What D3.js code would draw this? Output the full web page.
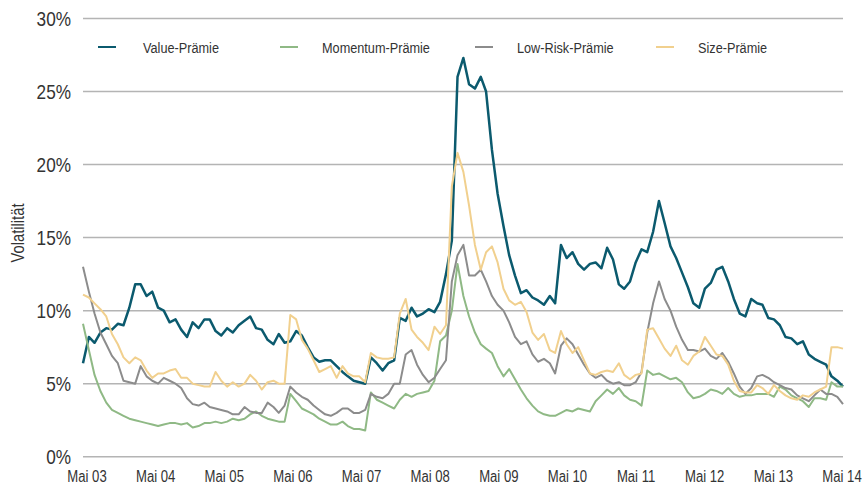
<!DOCTYPE html>
<html>
<head>
<meta charset="utf-8">
<script src="https://cdn.jsdelivr.net/npm/d3@7"></script>
<style>
  body { margin: 0; background: #fff; }
  svg text { font-family: "Liberation Sans", Arial, sans-serif; fill: #333; }
</style>
</head>
<body>
<div id="chart"></div>
<script>
// monthly readings, Mai 2003 .. Mai 2014 (133 points), in %
const valuePraemie = [
  6.4, 8.2, 7.8, 8.5, 8.8, 8.7, 9.1, 9.0, 10.2, 11.8, 11.8, 11.0,
  11.3, 10.2, 10.0, 9.2, 9.4, 8.7, 8.2, 9.2, 8.8, 9.4, 9.4, 8.6,
  8.3, 8.8, 8.5, 9.0, 9.3, 9.6, 8.8, 8.7, 8.0, 7.7, 8.4, 7.8,
  7.9, 8.6, 8.3, 7.5, 6.8, 6.5, 6.6, 6.6, 6.2, 5.8, 5.5, 5.2,
  5.1, 5.0, 6.8, 6.4, 5.9, 6.4, 6.6, 9.5, 9.3, 10.2, 9.6, 9.8,
  10.1, 9.9, 10.6, 12.5, 14.8, 26.0, 27.3, 25.5, 25.2, 26.0, 25.0, 21.0,
  18.0, 15.8, 13.8, 12.4, 11.2, 11.4, 10.9, 10.7, 10.4, 11.0, 10.5, 14.5,
  13.6, 14.0, 13.2, 12.8, 13.2, 13.3, 12.9, 14.3, 13.5, 11.8, 11.5, 12.0,
  13.3, 14.2, 14.0, 15.4, 17.5, 16.0, 14.4, 13.6, 12.6, 11.6, 10.5, 10.2,
  11.5, 11.9, 12.8, 13.0, 12.0, 10.8, 9.8, 9.6, 10.8, 10.5, 10.4, 9.5,
  9.4, 9.0, 8.2, 8.1, 7.7, 7.9, 7.0, 6.7, 6.5, 6.3, 5.5, 5.2, 4.8
]
const momentumPraemie = [
  9.1, 7.3, 5.6, 4.5, 3.7, 3.2, 3.0, 2.8, 2.6, 2.5, 2.4, 2.3,
  2.2, 2.1, 2.2, 2.3, 2.3, 2.2, 2.3, 2.0, 2.1, 2.3, 2.3, 2.4,
  2.3, 2.4, 2.6, 2.5, 2.6, 2.9, 3.1, 2.8, 2.6, 2.5, 2.4, 2.4,
  4.3, 3.8, 3.3, 3.1, 2.9, 2.6, 2.4, 2.2, 2.2, 2.4, 2.1, 1.9,
  1.9, 1.8, 4.4, 3.9, 3.7, 3.5, 3.3, 3.9, 4.3, 4.1, 4.3, 4.4,
  4.5, 5.2, 7.9, 8.3, 10.0, 13.2, 11.0, 9.6, 8.5, 7.7, 7.4, 7.1,
  6.2, 5.5, 6.0, 5.3, 4.6, 4.0, 3.5, 3.1, 2.9, 2.8, 2.8, 3.0,
  3.2, 3.1, 3.3, 3.2, 3.1, 3.8, 4.2, 4.6, 4.3, 4.7, 4.2, 3.9,
  3.8, 3.5, 5.9, 5.6, 5.7, 5.5, 5.3, 5.4, 5.1, 4.4, 4.0, 4.1,
  4.3, 4.6, 4.5, 4.3, 4.7, 4.3, 4.1, 4.2, 4.2, 4.3, 4.3, 4.3,
  4.1, 4.8, 4.6, 4.2, 4.0, 3.8, 3.4, 4.0, 4.0, 3.9, 5.1, 4.8, 4.8
]
const lowRiskPraemie = [
  13.0, 11.3, 9.8, 8.5, 7.7, 6.9, 6.4, 5.2, 5.1, 5.0, 6.2, 5.5,
  5.2, 5.0, 5.4, 5.2, 5.0, 4.7, 4.0, 3.6, 3.5, 3.7, 3.4, 3.3,
  3.2, 3.1, 2.9, 2.9, 3.4, 3.1, 3.0, 3.0, 3.7, 3.4, 3.0, 3.5,
  4.8, 4.4, 4.1, 3.9, 3.5, 3.2, 2.9, 2.8, 3.0, 3.3, 3.3, 3.0,
  3.0, 3.2, 4.3, 4.1, 4.0, 4.3, 5.0, 5.0, 7.0, 7.3, 6.3, 5.6,
  5.1, 5.4, 6.0, 6.6, 12.0, 13.8, 14.5, 12.4, 12.4, 12.8, 12.0, 11.0,
  10.4, 10.0, 9.2, 8.2, 7.7, 7.9, 7.0, 6.5, 6.7, 6.4, 5.7, 7.6,
  8.1, 7.7, 7.0, 6.3, 5.7, 5.4, 5.6, 5.2, 5.0, 5.1, 4.9, 4.9,
  5.1, 5.8, 8.5, 10.5, 12.0, 10.8, 10.0, 8.9, 8.0, 7.3, 7.3, 7.2,
  7.4, 6.9, 6.7, 7.1, 6.5, 5.7, 4.8, 4.3, 4.7, 5.5, 5.6, 5.4,
  5.1, 4.9, 4.7, 4.6, 4.2, 4.0, 3.8, 4.2, 4.6, 4.3, 4.3, 4.1, 3.6
]
const sizePraemie = [
  11.1, 10.9, 10.5, 10.1, 9.6, 8.4, 7.7, 6.8, 6.4, 6.8, 6.6, 5.9,
  5.4, 5.7, 5.7, 5.9, 6.0, 5.4, 5.4, 5.0, 4.9, 4.8, 4.8, 5.8,
  5.2, 4.8, 5.1, 4.8, 5.0, 5.6, 5.2, 4.6, 5.1, 5.2, 5.0, 5.0,
  9.7, 9.4, 8.0, 7.4, 6.6, 5.8, 6.0, 6.2, 5.4, 6.2, 5.7, 5.5,
  5.5, 5.1, 7.1, 6.8, 6.7, 6.7, 6.8, 9.8, 10.8, 8.7, 8.2, 7.8,
  7.3, 8.9, 8.4, 9.0, 18.5, 20.8, 19.5, 17.2, 14.5, 12.8, 14.0, 14.4,
  13.3, 11.5, 10.7, 10.4, 10.6, 9.9, 8.5, 8.0, 8.4, 7.3, 7.1, 8.6,
  7.7, 7.1, 7.5, 6.6, 5.7, 5.6, 5.8, 5.9, 5.8, 6.4, 5.6, 5.3,
  5.6, 5.7, 8.7, 8.8, 8.1, 7.4, 6.9, 7.6, 6.6, 6.3, 6.9, 7.2,
  8.2, 7.6, 7.0, 6.9, 6.3, 5.2, 4.5, 4.4, 4.4, 4.9, 4.7, 4.3,
  4.9, 4.5, 4.2, 4.0, 3.9, 4.2, 4.1, 4.4, 4.6, 4.8, 7.5, 7.5, 7.4
]

const seriesNames = ["Value-Prämie", "Momentum-Prämie", "Low-Risk-Prämie", "Size-Prämie"]
const seriesColors = ["#0b5a6e", "#8fb985", "#8c8c8c", "#f1d08e"]
const xLabels = ["Mai 03", "Mai 04", "Mai 05", "Mai 06", "Mai 07", "Mai 08", "Mai 09", "Mai 10", "Mai 11", "Mai 12", "Mai 13", "Mai 14"]
const yTicks = [0, 5, 10, 15, 20, 25, 30]

const dates = d3.timeMonth.range(new Date(2003, 4, 1), new Date(2014, 5, 1))
const allSeries = [valuePraemie, momentumPraemie, lowRiskPraemie, sizePraemie]

const W = 865, H = 487
const narrow = "scale(0.82,1)"   // mimic a condensed face

const svg = d3.select("#chart")
    .append("svg")
    .attr("width", W)
    .attr("height", H)

const x = d3.scaleTime()
    .domain([dates[0], dates[dates.length - 1]])
    .range([83, 843])

const y = d3.scaleLinear()
    .domain([0, 30])
    .range([456.7, 18.5])

// labels sit on an even grid of their own
const xl = d3.scalePoint()
    .domain(xLabels)
    .range([87, 842])

// grid
svg.append("g")
    .selectAll("line")
    .data(yTicks)
    .join("line")
        .attr("x1", 83)
        .attr("x2", 843)
        .attr("y1", d => y(d))
        .attr("y2", d => y(d))
        .attr("stroke", "#b4b4b4")
        .attr("stroke-width", 1.5)

const yAxis = svg.append("g")
    .attr("transform", "translate(71,0)")
    .call(d3.axisLeft(y).tickValues(yTicks).tickSize(0).tickFormat(d => d + "%"))
yAxis.select(".domain").remove()
yAxis.attr("font-family", null).attr("font-size", null)
yAxis.selectAll("text")
    .attr("x", 0)
    .attr("dy", "0.36em")
    .attr("transform", "scale(0.86,1)")
    .style("font-size", "20px")
    .style("fill", "#333")

svg.append("g")
    .selectAll("text")
    .data(xLabels)
    .join("text")
        .attr("transform", d => `translate(${xl(d)},482) ${narrow}`)
        .attr("text-anchor", "middle")
        .style("font-size", "16px")
        .text(d => d)

svg.append("text")
    .attr("transform", `translate(24,233) rotate(-90) ${narrow}`)
    .attr("text-anchor", "middle")
    .style("font-size", "18px")
    .text("Volatilität")

// lines
const line = d3.line()
    .x((d, i) => x(dates[i]))
    .y(d => y(d))

svg.append("g")
    .selectAll("path")
    .data(allSeries)
    .join("path")
        .attr("d", line)
        .attr("fill", "none")
        .attr("stroke", (d, i) => seriesColors[i])
        .attr("stroke-width", (d, i) => i === 0 ? 2.5 : 2)
        .attr("stroke-linejoin", "round")

// legend
const legendX = [98, 280, 475, 656]
const legend = svg.append("g")
    .selectAll("g")
    .data(seriesNames)
    .join("g")
        .attr("transform", (d, i) => `translate(${legendX[i]},47)`)

legend.append("line")
    .attr("x1", 0)
    .attr("x2", 18)
    .attr("stroke", (d, i) => seriesColors[i])
    .attr("stroke-width", 2)

legend.append("text")
    .attr("transform", (d, i) => `translate(${i === 0 ? 45 : 42},5.5) ${narrow}`)
    .style("font-size", "15.5px")
    .text(d => d)
</script>
</body>
</html>
